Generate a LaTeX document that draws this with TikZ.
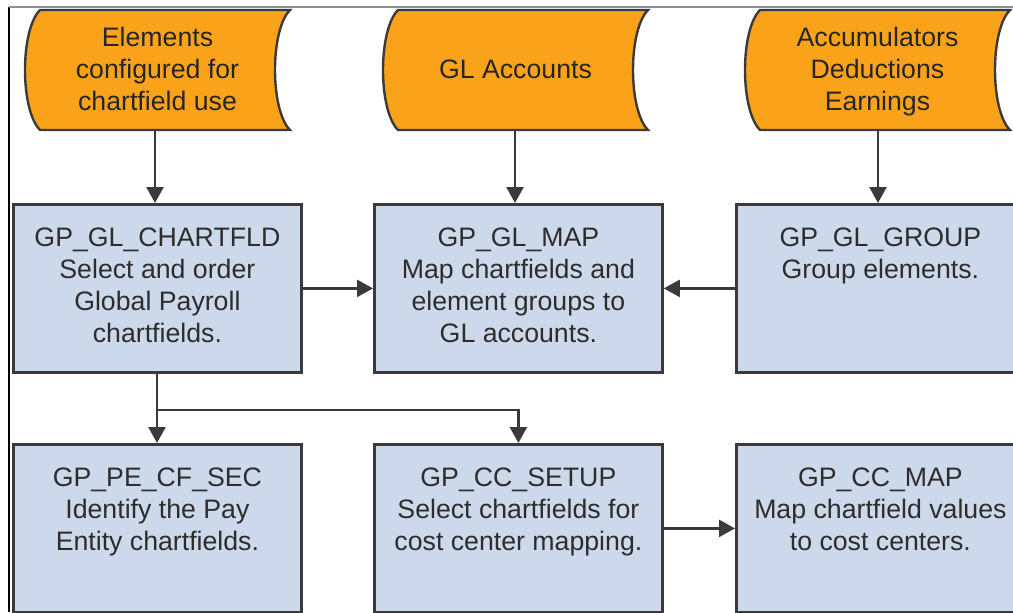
\documentclass[tikz,border=0pt]{standalone}
\usepackage{fontspec}
\setmainfont{Liberation Sans}
\usetikzlibrary{arrows.meta}
\definecolor{tapeorange}{RGB}{250,163,26}
\definecolor{boxblue}{RGB}{204,217,235}
\definecolor{edgecol}{RGB}{58,58,58}
\definecolor{txtcol}{RGB}{45,45,45}
\begin{document}
\begin{tikzpicture}[x=0.5pt,y=-0.5pt,
  box/.style={draw=edgecol, line width=1.4pt, fill=boxblue, minimum width=144pt, minimum height=84pt, inner sep=0pt, anchor=north west},
  lbl/.style={anchor=north, align=center, inner sep=0pt, font=\fontsize{13.35}{16}\selectfont, text=txtcol},
  tlbl/.style={lbl, text=black!85},
  tape/.style={draw=edgecol, line width=1.2pt, fill=tapeorange},
  arr/.style={draw=edgecol, line width=1.2pt, -{Triangle[length=8pt,width=8.5pt]}},
  ln/.style={draw=edgecol, line width=1.2pt}
  ]
\useasboundingbox (0,0) rectangle (1013,612);
\clip (0,0) rectangle (1013,612);
% frame
\draw[black, line width=0.8pt] (9,7) -- (9,612);
\draw[black!45, line width=0.7pt] (9,7) -- (1013,7);
% stored data shapes
\foreach \L in {25,383,745}{
  \draw[tape] (\L+15,10) -- (\L+265,10) .. controls (\L+245,30) and (\L+245,110) .. (\L+265,130)
     -- (\L+15,130) .. controls (\L-5,110) and (\L-5,30) .. (\L+15,10) -- cycle;
}
\node[tlbl] (s1) at (157.5,24) {\strut Elements\\configured for\\chartfield use};
\node[tlbl] (s2) at (515.5,56) {\strut GL Accounts};
\node[tlbl] (s3) at (877.5,24) {\strut Accumulators\\Deductions\\Earnings};
\coordinate (s1b) at (155,130);
\coordinate (s2b) at (515,130);
\coordinate (s3b) at (878,130);
% boxes row 2
\node[box] (b1) at (12,203) {};
\node[box] (b2) at (373,203) {};
\node[box] (b3) at (735,203) {};
% boxes row 3
\node[box] (c1) at (12,443) {};
\node[box] (c2) at (373,443) {};
\node[box] (c3) at (735,443) {};
% labels
\node[lbl] (b1t) at ([yshift=-10.5pt]b1.north) {\strut GP\_GL\_CHARTFLD\\Select and order\\Global Payroll\\chartfields.};
\node[lbl] (b2t) at ([yshift=-10.5pt]b2.north) {\strut GP\_GL\_MAP\\Map chartfields and\\element groups to\\GL accounts.};
\node[lbl] (b3t) at ([yshift=-10.5pt]b3.north) {\strut GP\_GL\_GROUP\\Group elements.};
\node[lbl] (c1t) at ([yshift=-10.5pt]c1.north) {\strut GP\_PE\_CF\_SEC\\Identify the Pay\\Entity chartfields.};
\node[lbl] (c2t) at ([yshift=-10.5pt]c2.north) {\strut GP\_CC\_SETUP\\Select chartfields for\\cost center mapping.};
\node[lbl] (c3t) at ([yshift=-10.5pt]c3.north) {\strut GP\_CC\_MAP\\Map chartfield values\\to cost centers.};
% connectors
\draw[arr] (s1b) -- (s1b |- b1.north);
\draw[arr] (s2b) -- (s2b |- b2.north);
\draw[arr] (s3b) -- (s3b |- b3.north);
\draw[arr] (b1) -- (b2);
\draw[arr] (b3) -- (b2);
\coordinate (j) at (157,410);
\draw[arr] (j |- b1.south) -- (j |- c1.north);
\draw[arr] (j) -- (j -| c2.north) -- (c2.north);
\draw[arr] (c2) -- (c3);
\end{tikzpicture}
\end{document}
